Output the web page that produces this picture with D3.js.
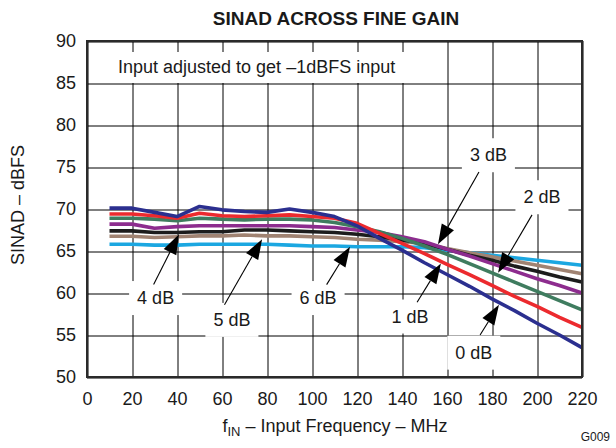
<!DOCTYPE html>
<html>
<head>
<meta charset="utf-8">
<script src="https://cdn.jsdelivr.net/npm/d3@7"></script>
<style>
  html, body { margin: 0; padding: 0; background: #fff; }
  text { font-family: "Liberation Sans", Arial, Helvetica, sans-serif; fill: #1a1a1a; }
</style>
</head>
<body>
<svg id="chart" width="616" height="448"></svg>
<script>
// ---------------- DATA ----------------
const freqs = [10,20,30,40,50,60,70,80,90,100,110,120,130,140,150,160,170,180,190,200,210,220];
const gain0dB = [70.1,70.1,69.6,69.1,70.3,69.9,69.7,69.6,70.0,69.6,69.1,68.0,66.5,65.1,63.6,62.2,60.8,59.3,57.9,56.4,55.0,53.5];
const gain1dB = [69.4,69.4,69.2,68.9,69.5,69.2,69.1,69.2,69.3,69.1,68.9,68.3,67.1,65.9,64.7,63.4,62.2,60.9,59.6,58.4,57.1,55.9];
const gain2dB = [68.9,68.9,68.8,68.6,68.9,68.8,68.7,68.8,68.8,68.7,68.4,67.9,67.3,66.5,65.6,64.6,63.5,62.4,61.3,60.2,59.1,58.0];
const gain3dB = [68.2,68.2,67.7,67.9,68.0,68.0,68.0,68.0,68.0,67.9,67.8,67.5,67.2,66.7,66.1,65.2,64.4,63.5,62.6,61.7,60.9,60.0];
const gain4dB = [67.4,67.4,67.2,67.2,67.3,67.3,67.5,67.5,67.4,67.3,67.2,67.0,66.7,66.3,65.9,65.2,64.5,63.9,63.2,62.6,61.9,61.3];
const gain5dB = [66.75,66.75,66.6,66.7,66.8,66.8,66.9,66.8,66.8,66.7,66.6,66.4,66.3,66.1,65.9,65.3,64.8,64.3,63.8,63.3,62.8,62.3];
const gain6dB = [65.8,65.8,65.7,65.7,65.8,65.8,65.8,65.8,65.7,65.6,65.6,65.5,65.5,65.5,65.4,65.1,64.8,64.5,64.2,63.9,63.6,63.3];
const seriesNames = ["0 dB","1 dB","2 dB","3 dB","4 dB","5 dB","6 dB"];
const xTicks = [0,20,40,60,80,100,120,140,160,180,200,220];
const yTicks = [50,55,60,65,70,75,80,85,90];
const titleText = "SINAD ACROSS FINE GAIN";
const noteText = "Input adjusted to get \u20131dBFS input";
const yLabelText = "SINAD \u2013 dBFS";
const figId = "G009";

// ---------------- STYLE / LAYOUT ----------------
const colors = {"0 dB":"#2b2f8f","1 dB":"#ec2a2e","2 dB":"#3f7c5f","3 dB":"#8d2c8e","4 dB":"#1c1c1c","5 dB":"#a08372","6 dB":"#1ba7e1"};
const seriesValues = [gain0dB,gain1dB,gain2dB,gain3dB,gain4dB,gain5dB,gain6dB];
// annotation placement in data coordinates: [label f, label dB, line-start f, line-start dB, tip f, tip dB]
const annot = {
  "0 dB":[171.9,52.9,174.7,55.0,183.1,58.6],
  "1 dB":[143.6,57.2,146.7,58.9,157.3,63.5],
  "2 dB":[202.2,71.4,197.8,69.3,182.7,62.4],
  "3 dB":[178.4,76.4,174.2,74.4,156.0,65.8],
  "4 dB":[30.5,59.4,29.6,61.0,40.9,67.0],
  "5 dB":[64.4,56.8,61.1,58.6,77.8,66.4],
  "6 dB":[102.7,59.4,106.5,61.0,116.9,65.5]
};

const L = 87, R = 582, T = 41, B = 377;
const svg = d3.select("#chart");
const x = d3.scaleLinear().domain([0,220]).range([L,R]);
const y = d3.scaleLinear().domain([50,90]).range([B,T]);

// grid
const grid = svg.append("g");
grid.append("g").attr("transform",`translate(0.5,${B})`)
  .call(d3.axisBottom(x).tickValues(xTicks).tickSize(-(B-T)).tickFormat(""))
  .call(g=>g.select(".domain").remove())
  .call(g=>g.selectAll("line").attr("stroke","#000").attr("stroke-width",1));
grid.append("g").attr("transform",`translate(${L},0.5)`)
  .call(d3.axisLeft(y).tickValues(yTicks).tickSize(-(R-L)).tickFormat(""))
  .call(g=>g.select(".domain").remove())
  .call(g=>g.selectAll("line").attr("stroke","#000").attr("stroke-width",1));

// tick labels
svg.append("g").attr("transform",`translate(0,${B})`)
  .call(d3.axisBottom(x).tickValues(xTicks).tickSize(0).tickPadding(15).tickFormat(d3.format("d")))
  .call(g=>g.select(".domain").remove())
  .call(g=>g.selectAll("text").style("font-size","18px").attr("fill","#1a1a1a").style("font-family","Liberation Sans, Arial, sans-serif"));
svg.append("g").attr("transform",`translate(${L},0)`)
  .call(d3.axisLeft(y).tickValues(yTicks).tickSize(0).tickPadding(11).tickFormat(d3.format("d")))
  .call(g=>g.select(".domain").remove())
  .call(g=>g.selectAll("text").style("font-size","18px").attr("fill","#1a1a1a").style("font-family","Liberation Sans, Arial, sans-serif"));

// note box + text
const maskLayer = svg.append("g");
const note = svg.append("text").attr("x",118).attr("y",73).style("font-size","18px").text(noteText);
{
  const bb = note.node().getBBox();
  maskLayer.append("rect").attr("x",bb.x-12).attr("y",52).attr("width",bb.width+24).attr("height",31).attr("fill","#fff");
}

// series lines
const line = d3.line().x((d,i)=>x(freqs[i])).y(d=>y(d));
const lineG = svg.append("g");
for (let k = seriesNames.length-1; k >= 0; k--) {
  lineG.append("path").datum(seriesValues[k]).attr("d",line)
    .attr("fill","none").attr("stroke",colors[seriesNames[k]])
    .attr("stroke-width",3.6).attr("stroke-linejoin","round").attr("stroke-linecap","butt");
}

// annotations
const annG = svg.append("g");
seriesNames.forEach(name=>{
  const a = annot[name];
  const lx = x(a[0]), ly = y(a[1]);
  const t = annG.append("text").attr("x",lx).attr("y",ly).attr("text-anchor","middle")
    .attr("dominant-baseline","central").style("font-size","18px").text(name);
  const bb = t.node().getBBox();
  maskLayer.append("rect").attr("x",bb.x-8).attr("y",bb.y-7).attr("width",bb.width+16).attr("height",bb.height+14).attr("fill","#fff");
  const sx = x(a[2]), sy = y(a[3]), tx = x(a[4]), ty = y(a[5]);
  const dx = tx-sx, dy = ty-sy, len = Math.hypot(dx,dy), ux = dx/len, uy = dy/len;
  const hl = 20, hw = 7;
  const bx = tx-ux*hl, by = ty-uy*hl;
  annG.append("line").attr("x1",sx).attr("y1",sy).attr("x2",bx).attr("y2",by).attr("stroke","#000").attr("stroke-width",1.1);
  annG.append("path").attr("d",`M${tx},${ty}L${bx-uy*hw},${by+ux*hw}L${bx+uy*hw},${by-ux*hw}Z`).attr("fill","#000");
});

// frame
svg.append("rect").attr("x",L).attr("y",T).attr("width",R-L).attr("height",B-T)
  .attr("fill","none").attr("stroke","#2a2a2a").attr("stroke-width",2);

// titles
svg.append("text").attr("x",336).attr("y",25).attr("text-anchor","middle")
  .style("font-size","19px").style("font-weight","bold").text(titleText);
svg.append("text").attr("transform","translate(24,205) rotate(-90)").attr("text-anchor","middle")
  .style("font-size","18px").text(yLabelText);
const xl = svg.append("text").attr("x",335).attr("y",432).attr("text-anchor","middle").style("font-size","18px");
xl.append("tspan").text("f");
xl.append("tspan").attr("dy",4).style("font-size","13px").text("IN");
xl.append("tspan").attr("dy",-4).text(" \u2013 Input Frequency \u2013 MHz");
svg.append("text").attr("x",610).attr("y",441).attr("text-anchor","end").style("font-size","12px").text(figId);
</script>
</body>
</html>
